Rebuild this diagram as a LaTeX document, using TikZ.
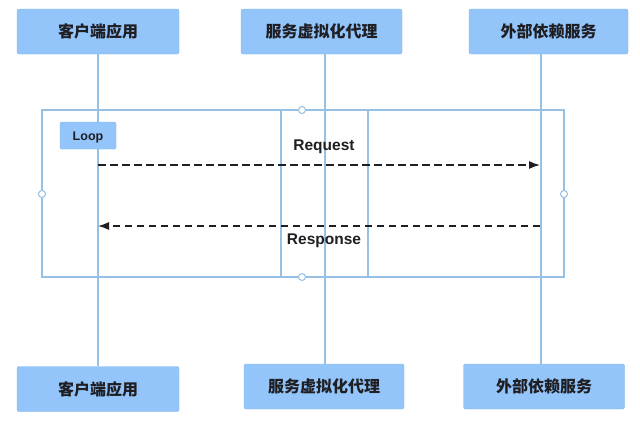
\documentclass[tikz,border=0pt]{standalone}
\usepackage{fontspec}
\setmainfont{Liberation Sans}
\newfontfamily\cjk{Noto Sans CJK SC}
\usetikzlibrary{arrows.meta}
\definecolor{boxblue}{RGB}{147,197,250}
\definecolor{boxedge}{RGB}{130,182,238}
\definecolor{lineblue}{RGB}{150,192,228}
\definecolor{txt}{RGB}{30,30,35}
\begin{document}
\begin{tikzpicture}[x=1pt,y=-1pt,
  actor/.style={draw=boxedge,fill=boxblue,rounded corners=2pt,minimum height=45pt,inner sep=0pt,
    text=txt,font=\cjk\bfseries\fontsize{16}{16}\selectfont},
  life/.style={draw=lineblue,line width=1.2pt},
  frameline/.style={draw=lineblue,line width=1.3pt},
  handle/.style={circle,draw=lineblue,fill=white,line width=1pt,inner sep=0pt,minimum size=7pt},
  msg/.style={draw=txt,line width=1.3pt,dash pattern=on 7.5pt off 4.5pt,-{Latex[length=11pt,width=8pt]}},
  lbl/.style={text=txt,text height=11pt,text depth=0pt,font=\bfseries\fontsize{15.5}{15.5}\selectfont}]
\useasboundingbox[fill=white] (0,0) rectangle (640,421);
% actors
\node[actor,minimum width=162pt] (t1) at (98,31.5) {客户端应用};
\node[actor,minimum width=161pt] (t2) at (321.5,31.5) {服务虚拟化代理};
\node[actor,minimum width=159pt] (t3) at (548.5,31.5) {外部依赖服务};
\node[actor,minimum width=162pt] (b1) at (98,389) {客户端应用};
\node[actor,minimum width=160pt] (b2) at (324,386.5) {服务虚拟化代理};
\node[actor,minimum width=161pt] (b3) at (544,386.5) {外部依赖服务};
\coordinate (l1) at (98,0);
\coordinate (l2) at (325,0);
\coordinate (l3) at (541,0);
% frame
\coordinate (fa) at (42,110);
\coordinate (fb) at (564,277);
\draw[frameline] (fa) rectangle (fb);
\coordinate (v1t) at (281,110); \coordinate (v1b) at (281,277);
\coordinate (v2t) at (368,110); \coordinate (v2b) at (368,277);
\draw[frameline] (v1t) -- (v1b);
\draw[frameline] (v2t) -- (v2b);
% lifelines
\draw[life] (t1.south -| l1) -- (b1.north -| l1);
\draw[life] (t2.south -| l2) -- (b2.north -| l2);
\draw[life] (t3.south -| l3) -- (b3.north -| l3);
% handles
\node[handle] (h1) at (302,110) {};
\node[handle] (h2) at (302,277) {};
\node[handle] (h3) at (42,194) {};
\node[handle] (h4) at (564,194) {};
% loop label
\node[draw=boxedge,fill=boxblue,rounded corners=1.5pt,minimum width=56pt,minimum height=27pt,inner sep=0pt,
  text height=9pt,text depth=0pt,
  text=txt,font=\bfseries\fontsize{12.5}{12.5}\selectfont] (loop) at (88,135.5) {Loop};
% messages
\coordinate (r1s) at (98,165); \coordinate (r1e) at (540,165);
\coordinate (r2s) at (540,226); \coordinate (r2e) at (98,226);
\draw[msg] (r1s) -- (r1e);
\draw[msg] (r2s) -- (r2e);
\node[lbl] (req) at (324,145) {Request};
\node[lbl] (resp) at (324,239) {Response};
\end{tikzpicture}
\end{document}
